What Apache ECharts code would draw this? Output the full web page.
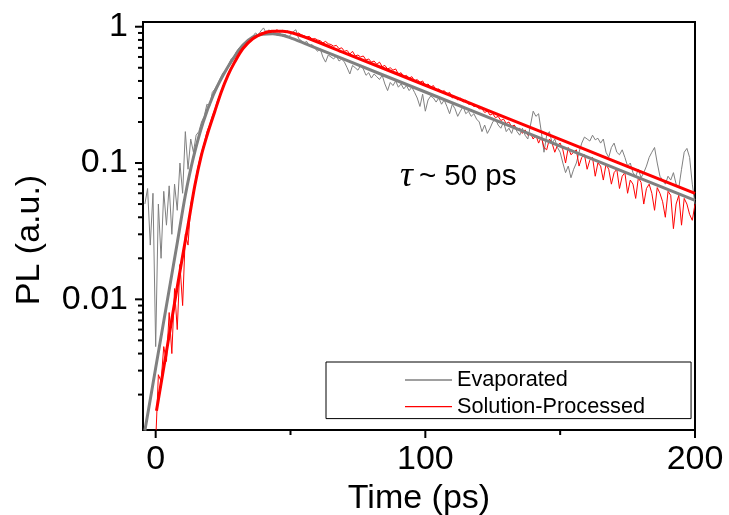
<!DOCTYPE html>
<html><head><meta charset="utf-8">
<script src="https://cdn.jsdelivr.net/npm/echarts@6/dist/echarts.min.js"></script>
<style>html,body{margin:0;padding:0;background:#fff}#c{width:729px;height:515px}</style>
</head><body><div id="c"></div>
<script>
// Time axis (ps) and PL (a.u.) values
const evapStart = -4; // raw Evaporated trace sampled every 1 ps from -4 ps
const evapRaw = [
0.05,0.065,0.025,0.06,0.0045,0.05,0.02,0.062,0.035,0.068,
0.03,0.07,0.045,0.1,0.06,0.17,0.09,0.15,0.12,0.16,
0.17,0.2,0.22,0.27,0.26,0.33,0.35,0.38,0.42,0.46,
0.48,0.53,0.58,0.6,0.66,0.7,0.71,0.74,0.8,0.79,
0.85,0.9,0.87,0.93,0.98,0.9,0.95,0.88,0.92,0.86,
0.9,0.85,0.88,0.83,0.87,0.92,0.95,0.82,0.79,0.76,
0.78,0.72,0.74,0.7,0.66,0.69,0.6,0.55,0.62,0.6,
0.58,0.61,0.56,0.58,0.55,0.5,0.45,0.52,0.5,0.48,
0.52,0.49,0.44,0.46,0.42,0.45,0.43,0.41,0.44,0.38,
0.34,0.39,0.37,0.4,0.36,0.38,0.35,0.37,0.34,0.36,
0.33,0.3,0.26,0.32,0.24,0.29,0.31,0.3,0.28,0.3,
0.27,0.29,0.26,0.23,0.27,0.25,0.22,0.24,0.26,0.23,
0.24,0.22,0.23,0.21,0.2,0.17,0.19,0.165,0.18,0.2,
0.21,0.19,0.18,0.2,0.17,0.18,0.165,0.19,0.17,0.16,
0.18,0.16,0.15,0.19,0.24,0.22,0.23,0.17,0.12,0.16,
0.17,0.14,0.15,0.13,0.12,0.1,0.085,0.095,0.078,0.09,
0.1,0.12,0.14,0.155,0.15,0.145,0.16,0.148,0.152,0.14,
0.15,0.12,0.11,0.13,0.14,0.12,0.115,0.125,0.11,0.095,
0.1,0.085,0.08,0.09,0.078,0.085,0.095,0.11,0.12,0.13,
0.1,0.08,0.075,0.07,0.08,0.075,0.085,0.07,0.066,0.09,
0.12,0.128,0.11,0.07,0.05
];
const solStart = 0; // raw Solution-Processed trace sampled every 1 ps from 0 ps
const solRaw = [
0.0009,0.0028,0.0025,0.0045,0.0035,0.008,0.004,0.012,0.006,0.018,
0.009,0.03,0.025,0.05,0.06,0.08,0.1,0.12,0.14,0.17,
0.19,0.22,0.25,0.29,0.32,0.37,0.41,0.46,0.5,0.55,
0.59,0.63,0.68,0.72,0.76,0.8,0.83,0.86,0.88,0.9,
0.91,0.93,0.92,0.94,0.93,0.95,0.92,0.94,0.91,0.93,
0.9,0.91,0.88,0.9,0.87,0.86,0.84,0.85,0.81,0.82,
0.8,0.79,0.76,0.78,0.75,0.74,0.72,0.73,0.69,0.7,
0.66,0.67,0.63,0.66,0.61,0.62,0.6,0.61,0.57,0.58,
0.55,0.56,0.53,0.55,0.51,0.52,0.49,0.5,0.48,0.49,
0.45,0.46,0.43,0.44,0.42,0.43,0.4,0.41,0.39,0.4,
0.37,0.38,0.36,0.37,0.34,0.35,0.33,0.34,0.32,0.33,
0.3,0.31,0.29,0.3,0.28,0.29,0.27,0.27,0.26,0.26,
0.25,0.25,0.235,0.24,0.225,0.23,0.215,0.22,0.205,0.21,
0.195,0.2,0.185,0.19,0.175,0.18,0.165,0.175,0.16,0.165,
0.15,0.16,0.14,0.155,0.13,0.125,0.15,0.14,0.12,0.135,
0.14,0.125,0.1,0.13,0.115,0.12,0.125,0.095,0.11,0.115,
0.09,0.105,0.11,0.08,0.1,0.095,0.075,0.098,0.09,0.07,
0.085,0.09,0.065,0.08,0.085,0.06,0.075,0.07,0.055,0.078,
0.072,0.05,0.065,0.07,0.06,0.045,0.066,0.06,0.052,0.04,
0.062,0.058,0.033,0.05,0.058,0.035,0.055,0.05,0.042,0.038,
0.05
];
const evapFitT = [-4,0,4,8,11,14,17.6,21.3,25,28.7,32.3,36,39.7,43.4,47.1,50.8,57,70,100,150,200];
const evapFitV = [0.00109,0.00313,0.009,0.0259,0.058,0.11,0.199,0.313,0.44,0.582,0.73,0.84,0.879,0.889,0.865,0.817,0.73,0.575,0.332,0.133,0.0532];
const solFitT = [0.3,4,8,12,14.5,16.9,19.4,21.9,24.3,26.8,29.3,32.3,36,39.7,43.4,47.1,50.8,57,70,100,150,200];
const solFitV = [0.00152,0.00415,0.01233,0.035,0.068,0.113,0.168,0.238,0.331,0.44,0.55,0.689,0.817,0.889,0.925,0.925,0.9,0.816,0.644,0.372,0.149,0.0598];

const xMin = -4.7, xMax = 200, yMin = 0.0011, yMax = 1.083;
const xLabelValues = [0, 100, 200];
const xMajorTicks = [0, 100, 200];
const xMinorTicks = [50, 150];
const yMajorTicks = [0.01, 0.1, 1];
const yMinorTicks = [0.002,0.003,0.004,0.005,0.006,0.007,0.008,0.009,
                     0.02,0.03,0.04,0.05,0.06,0.07,0.08,0.09,
                     0.2,0.3,0.4,0.5,0.6,0.7,0.8,0.9];

const FONT = 'Liberation Sans, Arial, sans-serif';
const pairs = (start, arr) => arr.map((v, i) => [start + i, v]);
const zip = (t, v) => t.map((x, i) => [x, v[i]]);

const yTickData = yMajorTicks.map(v => [xMin, v, 8]).concat(yMinorTicks.map(v => [xMin, v, 5]));
const xTickData = xMajorTicks.map(v => [v, yMin, 8]).concat(xMinorTicks.map(v => [v, yMin, 5]));

const chart = echarts.init(document.getElementById('c'), null, {renderer: 'canvas'});
chart.setOption({
  animation: false,
  backgroundColor: '#fff',
  textStyle: {fontFamily: FONT},
  grid: {left: 143, top: 22, width: 552, height: 408, show: true, borderColor: '#000', borderWidth: 2, containLabel: false, outerBoundsMode: 'none'},
  xAxis: {
    type: 'value', min: xMin, max: xMax,
    name: 'Time (ps)', nameLocation: 'middle', nameGap: 47,
    nameTextStyle: {fontSize: 34, color: '#000', fontFamily: FONT},
    axisLine: {onZero: false, lineStyle: {color: '#000', width: 2}},
    axisTick: {show: false},
    splitLine: {show: false},
    axisLabel: {customValues: xLabelValues, fontSize: 34, color: '#000', margin: 13, fontFamily: FONT}
  },
  yAxis: {
    type: 'log', min: yMin, max: yMax, logBase: 10,
    name: 'PL (a.u.)', nameLocation: 'middle', nameGap: 96,
    nameTextStyle: {fontSize: 34, color: '#000', fontFamily: FONT, padding: [0, 28, 0, 0]},
    axisLine: {onZero: false, lineStyle: {color: '#000', width: 2}},
    axisTick: {show: false},
    splitLine: {show: false},
    minorTick: {show: false},
    axisLabel: {fontSize: 34, color: '#000', margin: 15, fontFamily: FONT, showMinLabel: false, showMaxLabel: false}
  },
  legend: {
    data: ['Evaporated', 'Solution-Processed'],
    orient: 'vertical', left: 326, top: 362,
    padding: [6, 46, 0, 79],
    icon: 'rect',
    itemWidth: 47, itemHeight: 1.3, itemGap: 2.6,
    borderColor: '#000', borderWidth: 1, borderRadius: 0,
    itemStyle: {borderWidth: 0},
    textStyle: {fontSize: 21.7, color: '#000', fontFamily: FONT, lineHeight: 24},
    selectedMode: false
  },
  graphic: [{
    type: 'text', x: 400, y: 177,
    style: {
      text: '{t|τ}{n|~ 50 ps}',
      verticalAlign: 'middle', align: 'left',
      rich: {
        t: {fontFamily: 'Liberation Serif, Times New Roman, serif', fontStyle: 'italic', fontSize: 36, fill: '#000', padding: [0, 6, 0, 0]},
        n: {fontFamily: FONT, fontSize: 29.5, fill: '#000'}
      }
    }
  }],
  series: [
    {name: 'Evaporated', type: 'line', data: pairs(evapStart, evapRaw), symbol: 'none', showSymbol: false,
     lineStyle: {color: '#808080', width: 1}, itemStyle: {color: '#808080'}, clip: true, z: 2},
    {name: 'Solution-Processed', type: 'line', data: pairs(solStart, solRaw), symbol: 'none', showSymbol: false,
     lineStyle: {color: '#ff0000', width: 1}, itemStyle: {color: '#ff0000'}, clip: true, z: 3},
    {name: 'Evaporated fit', type: 'line', data: zip(evapFitT, evapFitV), symbol: 'none', showSymbol: false, smooth: 0.3,
     lineStyle: {color: '#808080', width: 3}, itemStyle: {color: '#808080'}, clip: true, z: 4},
    {name: 'Solution-Processed fit', type: 'line', data: zip(solFitT, solFitV), symbol: 'none', showSymbol: false, smooth: 0.3,
     lineStyle: {color: '#ff0000', width: 3}, itemStyle: {color: '#ff0000'}, clip: true, z: 5},
    {name: 'yTicks', type: 'custom', data: yTickData, silent: true, z: 6,
     renderItem: (params, api) => {
       const p = api.coord([api.value(0), api.value(1)]);
       const len = api.value(2);
       return {type: 'line', shape: {x1: p[0] - len, y1: p[1], x2: p[0], y2: p[1]}, style: {stroke: '#000', lineWidth: 2}};
     }},
    {name: 'xTicks', type: 'custom', data: xTickData, silent: true, z: 6,
     renderItem: (params, api) => {
       const p = api.coord([api.value(0), api.value(1)]);
       const len = api.value(2);
       return {type: 'line', shape: {x1: p[0], y1: p[1], x2: p[0], y2: p[1] + len}, style: {stroke: '#000', lineWidth: 2}};
     }}
  ]
});
</script></body></html>
